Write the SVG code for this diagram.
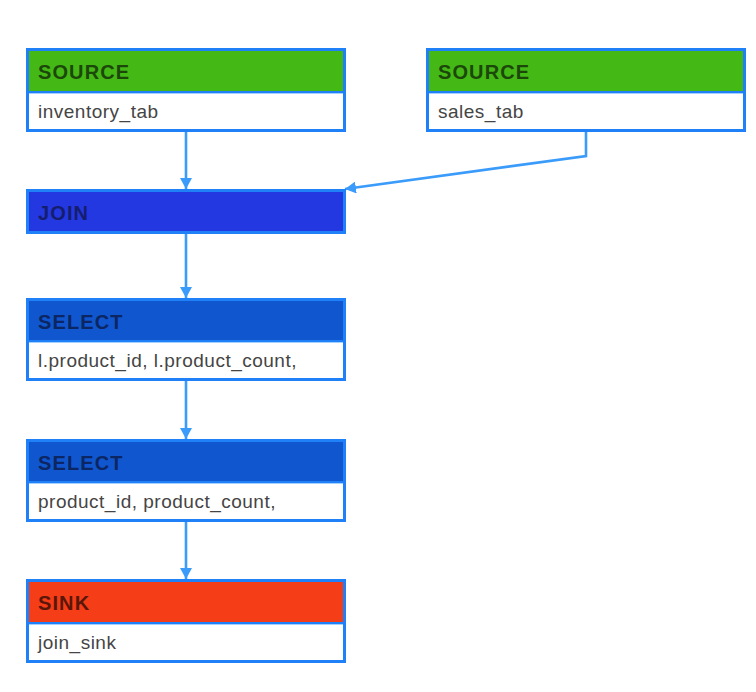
<svg xmlns="http://www.w3.org/2000/svg" width="756" height="692" viewBox="0 0 756 692">
<style>
.frame{fill:#ffffff;stroke:#1f80f7;stroke-width:3}
.sep{stroke:#1f80f7;stroke-width:2}
.sep2{stroke:#a8d0ff;stroke-width:1}
.h{font-family:"Liberation Sans",Arial,sans-serif;font-weight:bold;font-size:20px;letter-spacing:1.1px}
.b{font-family:"Liberation Sans",Arial,sans-serif;font-size:19px;letter-spacing:0.5px;fill:#454545}
.edge{fill:none;stroke:#3a9bfa;stroke-width:2.6}
</style>
<defs>
<marker id="ah" viewBox="0 0 11 12" refX="11" refY="6" markerWidth="11" markerHeight="12" markerUnits="userSpaceOnUse" orient="auto">
<path d="M0,0 L11,6 L0,12 Z" fill="#3a9bfa"/>
</marker>
</defs>
<rect width="756" height="692" fill="#ffffff"/>
<g id="connectors">
<path class="edge" d="M186,132 L186,189" marker-end="url(#ah)"/>
<path class="edge" d="M586,132 L586,156 L345,189" marker-end="url(#ah)"/>
<path class="edge" d="M186,234 L186,298" marker-end="url(#ah)"/>
<path class="edge" d="M186,381 L186,439" marker-end="url(#ah)"/>
<path class="edge" d="M186,522 L186,579" marker-end="url(#ah)"/>
</g>
<g id="source-inventory">
<rect class="frame" x="27.5" y="49.5" width="317" height="81"/>
<rect x="29" y="51" width="314" height="41" fill="#44b916"/>
<line class="sep" x1="29" y1="92" x2="343" y2="92"/>
<line class="sep2" x1="29" y1="93.5" x2="343" y2="93.5"/>
<text class="h" x="38" y="79" fill="#1c470b">SOURCE</text>
<text class="b" x="38" y="118">inventory_tab</text>
</g>
<g id="source-sales">
<rect class="frame" x="427.5" y="49.5" width="317" height="81"/>
<rect x="429" y="51" width="314" height="41" fill="#44b916"/>
<line class="sep" x1="429" y1="92" x2="743" y2="92"/>
<line class="sep2" x1="429" y1="93.5" x2="743" y2="93.5"/>
<text class="h" x="438" y="79" fill="#1c470b">SOURCE</text>
<text class="b" x="438" y="118">sales_tab</text>
</g>
<g id="join">
<rect class="frame" x="27.5" y="190.5" width="317" height="42" style="fill:#2338e0"/>
<text class="h" x="38" y="220" fill="#141d6e">JOIN</text>
</g>
<g id="select-1">
<rect class="frame" x="27.5" y="299.5" width="317" height="80"/>
<rect x="29" y="301" width="314" height="40" fill="#1057cf"/>
<line class="sep" x1="29" y1="341" x2="343" y2="341"/>
<line class="sep2" x1="29" y1="342.5" x2="343" y2="342.5"/>
<text class="h" x="38" y="329" fill="#0b2662">SELECT</text>
<text class="b" x="38" y="367">l.product_id, l.product_count,</text>
</g>
<g id="select-2">
<rect class="frame" x="27.5" y="440.5" width="317" height="80"/>
<rect x="29" y="442" width="314" height="40" fill="#1057cf"/>
<line class="sep" x1="29" y1="482" x2="343" y2="482"/>
<line class="sep2" x1="29" y1="483.5" x2="343" y2="483.5"/>
<text class="h" x="38" y="470" fill="#0b2662">SELECT</text>
<text class="b" x="38" y="508">product_id, product_count,</text>
</g>
<g id="sink">
<rect class="frame" x="27.5" y="580.5" width="317" height="81"/>
<rect x="29" y="582" width="314" height="41" fill="#f53d18"/>
<line class="sep" x1="29" y1="623" x2="343" y2="623"/>
<line class="sep2" x1="29" y1="624.5" x2="343" y2="624.5"/>
<text class="h" x="38" y="610" fill="#5a1608">SINK</text>
<text class="b" x="38" y="649">join_sink</text>
</g>
</svg>
